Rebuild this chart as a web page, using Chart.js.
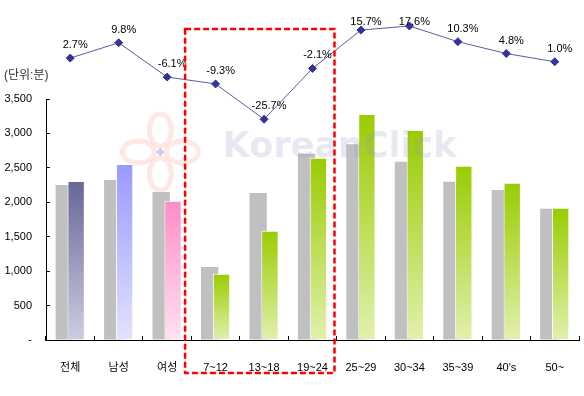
<!DOCTYPE html>
<html>
<head>
<meta charset="utf-8">
<script src="https://cdn.jsdelivr.net/npm/chart.js@4.4.1/dist/chart.umd.min.js"></script>
<style>
html,body{margin:0;padding:0;background:#fff;}
canvas{display:block;}
</style>
</head>
<body>
<canvas id="c" width="584" height="396"></canvas>
<script>
// ---- data ----
const categories = ['전체', '남성', '여성', '7~12', '13~18', '19~24', '25~29', '30~34', '35~39', "40's", '50~'];
const prevMinutes = [2251, 2324, 2149, 1060, 2135, 2706, 2842, 2590, 2299, 2178, 1907];
const currMinutes = [2309, 2556, 2023, 963, 1588, 2648, 3282, 3050, 2532, 2285, 1922];
const growthPct = [2.7, 9.8, -6.1, -9.3, -25.7, -2.1, 15.7, 17.6, 10.3, 4.8, 1.0];
const yTicks = [0, 500, 1000, 1500, 2000, 2500, 3000, 3500];
const unitLabel = '(단위:분)';

// colour styles (top / bottom of each bar gradient)
const topColors = ['#666699', '#9999ff', '#ff8cc6', '#99cc00', '#99cc00', '#99cc00', '#99cc00', '#99cc00', '#99cc00', '#99cc00', '#99cc00'];
const bottomColors = ['#cdcde0', '#e2e2ff', '#ffe2f1', '#e2f0ae', '#e2f0ae', '#e2f0ae', '#e2f0ae', '#e2f0ae', '#e2f0ae', '#e2f0ae', '#e2f0ae'];

const FONT = "'Liberation Sans', Arial, 'Noto Sans CJK KR', sans-serif";
Chart.defaults.font.family = FONT;
Chart.defaults.font.size = 11;
Chart.defaults.color = '#000';

const nulls = categories.map(() => null);

function barGradient(ctx) {
  const chart = ctx.chart;
  const i = ctx.dataIndex;
  if (!chart.chartArea || ctx.raw == null) return topColors[i] || '#999';
  const y = chart.scales.y;
  const top = y.getPixelForValue(ctx.raw);
  const bottom = y.getPixelForValue(0);
  const g = chart.ctx.createLinearGradient(0, top, 0, bottom);
  g.addColorStop(0, topColors[i]);
  g.addColorStop(1, bottomColors[i]);
  return g;
}

const decorations = {
  id: 'decorations',
  beforeDatasetsDraw(chart) {
    // faint pink logo watermark
    const c = chart.ctx;
    const area = chart.chartArea;
    const cx = chart.scales.x.getPixelForValue(1.86);
    const cy = area.top + 144;
    c.save();
    c.strokeStyle = 'rgba(250,190,180,0.35)';
    c.lineWidth = 5;
    const loops = [[0, -22, 11, 16], [0, 22, 11, 16], [-22, 0, 16, 11], [22, 0, 16, 11]];
    loops.forEach(([dx, dy, rx, ry]) => {
      c.beginPath();
      c.ellipse(cx + dx, cy + dy, rx, ry, 0, 0, Math.PI * 2);
      c.stroke();
    });
    c.fillStyle = 'rgba(170,170,230,0.6)';
    c.translate(cx, cy);
    c.rotate(Math.PI / 4);
    c.fillRect(-3, -3, 6, 6);
    c.restore();
  },
  afterDatasetsDraw(chart) {
    const c = chart.ctx;
    const area = chart.chartArea;
    const x = chart.scales.x;
    // watermark
    c.save();
    c.font = "bold 35px 'DejaVu Sans', sans-serif";
    c.fillStyle = 'rgba(150,150,200,0.22)';
    c.textAlign = 'center';
    c.textBaseline = 'alphabetic';
    c.fillText('KoreanClick', (x.getPixelForValue(5) + x.getPixelForValue(6)) / 2 + 3, area.top + 149);
    c.restore();

    // growth labels
    const meta = chart.getDatasetMeta(3);
    c.save();
    c.font = '11px ' + FONT;
    c.fillStyle = '#000';
    c.textAlign = 'center';
    c.textBaseline = 'middle';
    meta.data.forEach((pt, i) => {
      const v = growthPct[i];
      const txt = v.toFixed(1) + '%';
      const ty = Math.max(pt.y - 13, area.top + 14);
      c.fillText(txt, pt.x + 5, ty);
    });
    c.restore();

    // unit label
    c.save();
    c.font = '12px ' + FONT;
    c.fillStyle = '#333';
    c.textAlign = 'left';
    c.textBaseline = 'middle';
    c.fillText(unitLabel, 4, chart.scales.y.top - 23);
    c.restore();

    // red dashed highlight box around 7~24
    c.save();
    c.strokeStyle = '#ff0000';
    c.lineWidth = 2.5;
    c.setLineDash([6, 3]);
    const left = x.getPixelForValue(3) - 30.5;
    const right = x.getPixelForValue(5) + 22;
    const top = area.top + 21;
    const bottom = area.bottom + 33;
    c.strokeRect(left, top, right - left, bottom - top);
    c.restore();
  }
};

new Chart(document.getElementById('c'), {
  type: 'bar',
  data: {
    labels: categories,
    datasets: [
      { label: 'slotA', data: nulls, stack: 'a', order: 1,
        barPercentage: 1.46, categoryPercentage: 0.49 },
      { label: 'curr', data: currMinutes, stack: 'b', order: 2,
        backgroundColor: barGradient, borderColor: '#ffffff', borderWidth: 1, borderSkipped: 'bottom',
        barPercentage: 1.46, categoryPercentage: 0.49 },
      { label: 'prev', data: prevMinutes, stack: 'a', order: 3,
        backgroundColor: '#c0c0c0', borderWidth: 0,
        barPercentage: 1.46, categoryPercentage: 0.49 },
      { type: 'line', label: 'growth', data: growthPct, yAxisID: 'y2', order: 0,
        borderColor: '#5a5aa8', borderWidth: 1, tension: 0, clip: false,
        pointStyle: 'rectRot', pointRadius: 4, pointBackgroundColor: '#333399', pointBorderColor: '#333399', pointBorderWidth: 1 }
    ]
  },
  options: {
    responsive: false,
    animation: false,
    layout: { padding: { top: 8, right: 2, left: 0, bottom: 0 } },
    plugins: { legend: { display: false }, tooltip: { enabled: false } },
    scales: {
      x: {
        type: 'category', position: 'bottom', offset: true,
        grid: { offset: true, drawOnChartArea: false, tickLength: -4, color: '#000' },
        border: { color: '#000', width: 1 },
        ticks: { padding: 25, color: '#000', font: { size: 11 }, maxRotation: 0, autoSkip: false },
        afterFit(s) { s.height = 56; s.paddingLeft = 0; s.paddingRight = 0; }
      },
      y: {
        type: 'linear', position: 'left', stack: 'v', stackWeight: 241, stacked: false,
        min: 0, max: 3500,
        afterBuildTicks(s) { s.ticks = yTicks.map(v => ({ value: v })); },
        ticks: { padding: 18, color: '#000', font: { size: 11 },
          callback: v => v === 0 ? '-' : v.toLocaleString('en-US') },
        grid: { drawOnChartArea: false, tickLength: -4, color: '#000' },
        border: { color: '#000', width: 1 },
        afterFit(s) { s.width = 46; s.paddingTop = 0; s.paddingBottom = 0; }
      },
      y2: {
        type: 'linear', position: 'left', stack: 'v', stackWeight: 91,
        min: -16.29, max: 25.94, display: false,
        afterFit(s) { s.paddingTop = 0; s.paddingBottom = 0; }
      }
    }
  },
  plugins: [decorations]
});
</script>
</body>
</html>
